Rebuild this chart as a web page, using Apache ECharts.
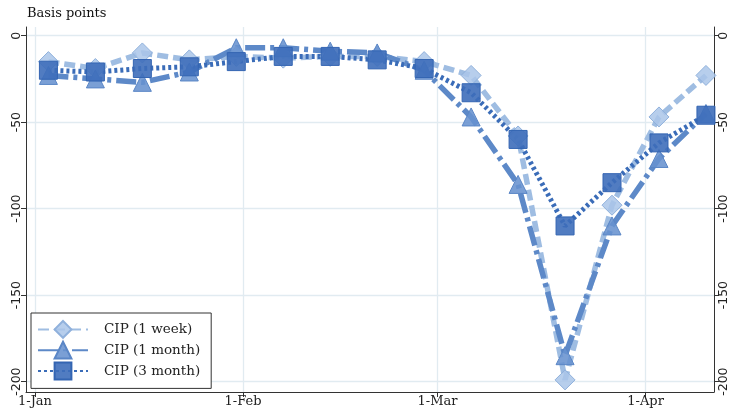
<!DOCTYPE html>
<html>
<head>
<meta charset="utf-8">
<script src="https://cdn.jsdelivr.net/npm/echarts@6/dist/echarts.min.js"></script>
<style>
  html, body { margin: 0; padding: 0; background: #ffffff; }
  #chart { width: 734px; height: 409px; }
</style>
</head>
<body>
<div id="chart"></div>
<script>
// Weekly observations (Fridays), covered interest parity deviations in basis points
const weekDates = ['2020-01-03', '2020-01-10', '2020-01-17', '2020-01-24', '2020-01-31',
                   '2020-02-07', '2020-02-14', '2020-02-21', '2020-02-28', '2020-03-06',
                   '2020-03-13', '2020-03-20', '2020-03-27', '2020-04-03', '2020-04-10'];
const cip1w = [-15, -19, -10, -14, -12, -13, -12, -12, -15, -23, -58, -199, -98, -47, -23];
const cip1m = [-23, -25, -27, -21, -7, -7, -9, -10, -20, -47, -86, -185, -110, -71, -45];
const cip3m = [-20, -21, -19, -18, -15, -12, -12, -14, -19, -33, -60, -110, -85, -62, -46];

const seriesNames = ['CIP (1 week)', 'CIP (1 month)', 'CIP (3 month)'];
const monthTicks = ['2020-01-01', '2020-02-01', '2020-03-01', '2020-04-01'];
const monthLabels = ['1-Jan', '1-Feb', '1-Mar', '1-Apr'];
const yTicks = [0, -50, -100, -150, -200];

// x positions are measured in days since 1 January 2020
const DAY = 86400000;
const ORIGIN = Date.UTC(2020, 0, 1);
const dayOf = s => (new Date(s + 'T00:00:00Z').getTime() - ORIGIN) / DAY;
const monthTickDays = monthTicks.map(dayOf);
const pairs = vals => weekDates.map((d, i) => [dayOf(d), vals[i]]);

const AXIS_COLOR = '#333333';
const GRID_COLOR = '#e1ebf1';
const SERIF = 'DejaVu Serif';
const SANS = 'DejaVu Sans';

function yAxisDef(position, withGrid) {
  return {
    type: 'value',
    position: position,
    min: -206,
    max: 5,
    axisLine: { show: true, onZero: false, lineStyle: { color: AXIS_COLOR, width: 1 } },
    axisTick: { show: true, length: 5, customValues: yTicks, lineStyle: { color: AXIS_COLOR } },
    axisLabel: {
      customValues: yTicks,
      rotate: 90,
      fontFamily: SANS,
      fontSize: 12.5,
      color: '#222222',
      margin: 3
    },
    splitLine: { show: withGrid, lineStyle: { color: GRID_COLOR, width: 1.3 } }
  };
}

const chart = echarts.init(document.getElementById('chart'), null, { renderer: 'canvas' });

chart.setOption({
  animation: false,
  backgroundColor: '#ffffff',
  title: {
    text: 'Basis points',
    left: 22,
    top: 2,
    textStyle: { fontFamily: SERIF, fontSize: 13, fontWeight: 'normal', color: '#111111' }
  },
  grid: { left: 26, right: 20, top: 27, bottom: 17, containLabel: false },
  xAxis: {
    type: 'value',
    min: -1.34,
    max: 101.2,
    axisLine: { show: true, onZero: false, lineStyle: { color: AXIS_COLOR, width: 1 } },
    axisTick: { show: true, length: 5, customValues: monthTickDays, lineStyle: { color: AXIS_COLOR } },
    axisLabel: {
      customValues: monthTickDays,
      formatter: v => {
        const i = monthTickDays.indexOf(v);
        return i >= 0 ? monthLabels[i] : '';
      },
      fontFamily: SERIF,
      fontSize: 13,
      color: '#222222',
      margin: 3
    },
    splitLine: { show: true, lineStyle: { color: GRID_COLOR, width: 1.3 } }
  },
  yAxis: [yAxisDef('left', true), yAxisDef('right', false)],
  legend: {
    orient: 'vertical',
    left: 31,
    top: 313,
    padding: [7, 11, 8, 6],
    itemGap: 2,
    itemWidth: 50,
    itemHeight: 21,
    backgroundColor: '#ffffff',
    borderColor: '#333333',
    borderWidth: 1,
    borderRadius: 0,
    data: seriesNames,
    textStyle: { fontFamily: SERIF, fontSize: 13.5, color: '#222222', padding: [0, 0, 0, 11] }
  },
  series: [
    {
      name: seriesNames[0],
      type: 'line',
      yAxisIndex: 0,
      data: pairs(cip1w),
      symbol: 'diamond',
      symbolSize: 20,
      lineStyle: { color: '#9fbde2', width: 5.5, type: [11, 5] },
      itemStyle: { color: 'rgba(170,198,233,0.85)', borderColor: '#90b1dc', borderWidth: 1 }
    },
    {
      name: seriesNames[1],
      type: 'line',
      yAxisIndex: 0,
      data: pairs(cip1m),
      symbol: 'triangle',
      symbolSize: 18,
      lineStyle: { color: '#5d89c8', width: 5.5, type: [20, 5, 4, 5] },
      itemStyle: { color: 'rgba(104,146,207,0.88)', borderColor: '#5a86c6', borderWidth: 1 }
    },
    {
      name: seriesNames[2],
      type: 'line',
      yAxisIndex: 0,
      data: pairs(cip3m),
      symbol: 'rect',
      symbolSize: 18,
      lineStyle: { color: '#3a6cb8', width: 5, type: [3, 3] },
      itemStyle: { color: 'rgba(62,110,186,0.9)', borderColor: '#3465b2', borderWidth: 1 }
    }
  ]
});
</script>
</body>
</html>
